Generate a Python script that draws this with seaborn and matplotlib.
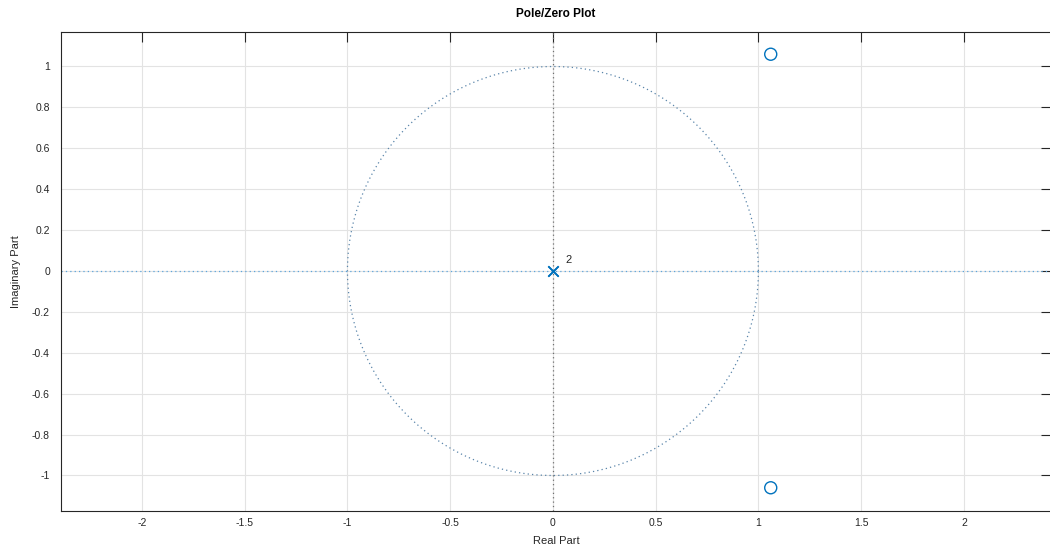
import numpy as np
import pandas as pd
import matplotlib
matplotlib.use("Agg")
import matplotlib.pyplot as plt
import seaborn as sns

# pole / zero locations
pole_re = [0.0, 0.0]
pole_im = [0.0, 0.0]
zero_re = [1.06, 1.06]
zero_im = [1.06, -1.06]
x_ticks = [-2, -1.5, -1, -0.5, 0, 0.5, 1, 1.5, 2]
y_ticks = [-1, -0.8, -0.6, -0.4, -0.2, 0, 0.2, 0.4, 0.6, 0.8, 1]

sns.set_style("white")
plt.rcParams['font.family'] = ['Liberation Sans', 'DejaVu Sans']

blue = '#0072BD'
fig = plt.figure(figsize=(10.5, 5.53), dpi=100)
ax = fig.add_axes([61 / 1050, 1 - 511 / 553, 990 / 1050, 479 / 553])

# unit circle and axis lines
theta = np.linspace(0, 2 * np.pi, 400)
circle = pd.DataFrame({'re': np.cos(theta), 'im': np.sin(theta)})
ax.plot(circle['re'], circle['im'], linestyle=(0, (1, 2.5)), color='#5a85aa', linewidth=0.9, zorder=2)
ax.axhline(0, linestyle=(0, (1, 2.5)), color='#5aa4dc', linewidth=0.9, zorder=2)
ax.axvline(0, linestyle=(0, (1, 2.5)), color='#707070', linewidth=0.9, zorder=2)

poles = pd.DataFrame({'re': pole_re, 'im': pole_im})
zeros = pd.DataFrame({'re': zero_re, 'im': zero_im})
sns.scatterplot(data=poles, x='re', y='im', marker='x', s=55, color=blue, linewidth=1.2, ax=ax, zorder=4)
sns.scatterplot(data=zeros, x='re', y='im', marker='o', s=75, facecolor='none', edgecolor=blue, linewidth=1.0, ax=ax, zorder=4)
ax.text(0.063, 0.03, '2', fontsize=8, color='#262626', ha='left', va='bottom')

ax.set_xlim(-2.394, 2.424)
ax.set_ylim(-1.1736, 1.1687)
ax.set_xticks(x_ticks)
ax.set_yticks(y_ticks)
ax.set_xticklabels([f'{t:g}' for t in x_ticks])
ax.set_yticklabels([f'{t:g}' for t in y_ticks])
ax.grid(True, color='#e3e3e3', linewidth=0.8)
ax.set_axisbelow(True)
ax.tick_params(direction='in', length=7, width=0.8, colors='#262626', labelsize=7.5,
               top=True, right=True)
ax.tick_params(axis='x', pad=5)
ax.tick_params(axis='y', pad=8)
for s in ax.spines.values():
    s.set_color('#262626')
    s.set_linewidth(0.8)
ax.set_xlabel('Real Part', fontsize=8, color='#262626', labelpad=6)
ax.set_ylabel('Imaginary Part', fontsize=8, color='#262626', labelpad=8)
ax.set_title('Pole/Zero Plot', fontsize=8.5, fontweight='bold', color='#000000', pad=11)

fig.savefig('out.png', dpi=100)
